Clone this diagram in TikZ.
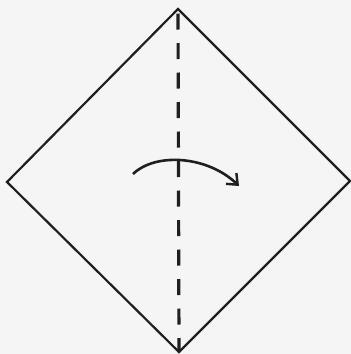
\documentclass[tikz,border=0pt]{standalone}
\usetikzlibrary{arrows.meta}
\begin{document}
\begin{tikzpicture}[x=1pt,y=-1pt,
  edge/.style={line width=2.2pt,line join=miter,color=black!88},
  foldline/.style={line width=3.2pt,color=black!88,dash pattern=on 16pt off 13.5pt,dash phase=25pt},
  turnarrow/.style={line width=2.6pt,color=black!88,-{Straight Barb[length=9pt,width=15pt,line width=2.4pt]}}]
  \fill[black!4] (0,0) rectangle (351,354);
  \useasboundingbox (0,0) rectangle (351,354);
  \coordinate (top) at (178,9);
  \coordinate (left) at (7,182);
  \coordinate (right) at (350,181);
  \coordinate (bottom) at (179,352);
  \fill[white!96!black] (top) -- (right) -- (bottom) -- (left) -- cycle;
  \draw[edge] (top) -- (right) -- (bottom) -- (left) -- cycle;
  \draw[foldline] (top) -- (bottom);
  \coordinate (astart) at (133,174);
  \coordinate (aend) at (239,186);
  \draw[turnarrow] (astart) .. controls (156,152) and (208,156) .. (aend);
\end{tikzpicture}
\end{document}
